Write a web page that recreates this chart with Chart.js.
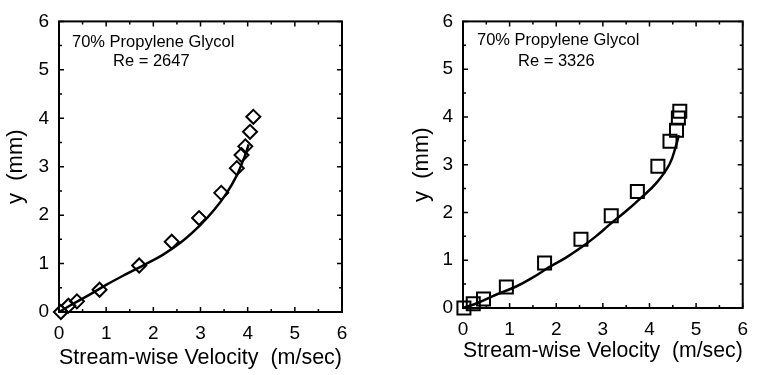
<!DOCTYPE html>
<html><head><meta charset="utf-8">
<script src="https://cdn.jsdelivr.net/npm/chart.js@4"></script>
<style>
html,body{margin:0;padding:0;background:#fff;}
#wrap{position:relative;width:758px;height:375px;overflow:hidden;}
.c{position:absolute;top:0;height:375px;}
</style></head><body>
<div id="wrap">
<div class="c" style="left:0;width:380px"><canvas id="c1"></canvas></div>
<div class="c" style="left:380px;width:378px"><canvas id="c2"></canvas></div>
</div>
<script>
// ---- data ----
const axisMin = 0, axisMax = 6;
const fluidLabel = '70% Propylene Glycol';
const reLeft = 'Re = 2647';
const reRight = 'Re = 3326';
const xTitle = 'Stream-wise Velocity  (m/sec)';
const yTitle = 'y  (mm)';

const leftMeasX = [0.04, 0.2, 0.38, 0.86, 1.7, 2.39, 2.97, 3.44, 3.77, 3.87, 3.95, 4.05, 4.12];
const leftMeasY = [0.0, 0.13, 0.22, 0.46, 0.96, 1.45, 1.94, 2.46, 2.97, 3.24, 3.42, 3.72, 4.03];
const leftFitX = [0, 0.3, 0.65, 1.0, 1.4, 1.8, 2.2, 2.6, 3.0, 3.3, 3.55, 3.76, 3.9, 3.97, 4.02];
const leftFitY = [0, 0.17, 0.36, 0.56, 0.77, 0.97, 1.18, 1.45, 1.8, 2.12, 2.45, 2.8, 3.12, 3.3, 3.46];

const rightMeasX = [0.02, 0.22, 0.44, 0.93, 1.75, 2.53, 3.18, 3.74, 4.18, 4.44, 4.58, 4.62, 4.65];
const rightMeasY = [0.0, 0.09, 0.19, 0.44, 0.94, 1.44, 1.93, 2.44, 2.97, 3.49, 3.72, 3.98, 4.12];
const rightFitX = [0, 0.3, 0.64, 1.14, 1.5, 1.84, 2.2, 2.54, 2.85, 3.15, 3.5, 3.8, 4.15, 4.43, 4.57, 4.63];
const rightFitY = [0, 0.1, 0.25, 0.45, 0.64, 0.85, 1.05, 1.27, 1.5, 1.75, 2.03, 2.29, 2.62, 3.01, 3.4, 3.62];

// ---- helpers ----
const FONT = "'Liberation Sans', Arial, Helvetica, sans-serif";
const pts = (xs, ys) => xs.map((x, i) => ({x, y: ys[i]}));

const frameTicks = {
  id: 'frameTicks',
  beforeDatasetsDraw(chart) {
    const {ctx, chartArea: a, scales: {x, y}} = chart;
    ctx.save();
    ctx.strokeStyle = '#000';
    ctx.lineWidth = 2;
    ctx.strokeRect(a.left, a.top, a.right - a.left, a.bottom - a.top);
    ctx.lineWidth = 1.5;
    ctx.beginPath();
    for (let v = axisMin; v <= axisMax + 1e-9; v += 0.5) {
      const len = Math.abs(v - Math.round(v)) < 1e-9 ? 5 : 3;
      const px = x.getPixelForValue(v);
      ctx.moveTo(px, a.bottom); ctx.lineTo(px, a.bottom - len);
      ctx.moveTo(px, a.top); ctx.lineTo(px, a.top + len);
      const py = y.getPixelForValue(v);
      ctx.moveTo(a.left, py); ctx.lineTo(a.left + len, py);
      ctx.moveTo(a.right, py); ctx.lineTo(a.right - len, py);
    }
    ctx.stroke();
    ctx.restore();
  }
};

function notePlugin(reText, dx1, dy1, dx2, dy2) {
  return {
    id: 'note',
    afterDraw(chart) {
      const {ctx, chartArea: a} = chart;
      ctx.save();
      ctx.fillStyle = '#000';
      ctx.font = '16.5px ' + FONT;
      ctx.textBaseline = 'alphabetic';
      ctx.textAlign = 'left';
      ctx.fillText(fluidLabel, a.left + dx1, a.top + dy1);
      ctx.fillText(reText, a.left + dx2, a.top + dy2);
      ctx.restore();
    }
  };
}

function makeChart(id, meas, fit, cfg) {
  return new Chart(document.getElementById(id), {
    type: 'scatter',
    data: {
      datasets: [
        {
          data: fit, showLine: true, pointRadius: 0, borderColor: '#000',
          borderWidth: 2.5, tension: 0.4, clip: false
        },
        {
          data: meas, showLine: false, pointStyle: cfg.pointStyle, pointRadius: cfg.radius,
          pointBorderWidth: 2, pointBorderColor: '#000', pointBackgroundColor: 'rgba(255,255,255,0)',
          clip: false
        }
      ]
    },
    options: {
      responsive: true, maintainAspectRatio: false, animation: false,
      layout: {padding: {left: cfg.padLeft, right: cfg.padRight, top: cfg.padTop, bottom: 0}},
      plugins: {legend: {display: false}, tooltip: {enabled: false}},
      scales: {
        x: {
          type: 'linear', min: axisMin, max: axisMax,
          ticks: {stepSize: 1, padding: 10, color: '#000', font: {family: FONT, size: 19}},
          grid: {display: false, drawTicks: false}, border: {display: false},
          title: {display: true, text: xTitle, color: '#000', font: {family: FONT, size: 22},
                  padding: {top: 0, bottom: cfg.xTitlePad}},
          afterFit(s) { s.height = cfg.xHeight; }
        },
        y: {
          type: 'linear', min: axisMin, max: axisMax,
          ticks: {stepSize: 1, padding: 10, color: '#000', font: {family: FONT, size: 19}},
          grid: {display: false, drawTicks: false}, border: {display: false},
          title: {display: true, text: yTitle, color: '#000', font: {family: FONT, size: 22},
                  padding: {top: 3, bottom: 0}},
          afterFit(s) { s.width = cfg.yWidth; }
        }
      }
    },
    plugins: [frameTicks, notePlugin(cfg.re, cfg.n1x, cfg.n1y, cfg.n2x, cfg.n2y)]
  });
}

makeChart('c1', pts(leftMeasX, leftMeasY), pts(leftFitX, leftFitY), {
  pointStyle: 'rectRot', radius: 7, padLeft: 0, padRight: 38, padTop: 14,
  xHeight: 63, yWidth: 59, xTitlePad: 4, re: reLeft,
  n1x: 13, n1y: 26, n2x: 54, n2y: 45
});
makeChart('c2', pts(rightMeasX, rightMeasY), pts(rightFitX, rightFitY), {
  pointStyle: 'rect', radius: 9.2, padLeft: 26, padRight: 10, padTop: 13,
  xHeight: 67, yWidth: 57, xTitlePad: 11, re: reRight,
  n1x: 14, n1y: 24, n2x: 55, n2y: 45
});
</script>
</body></html>
